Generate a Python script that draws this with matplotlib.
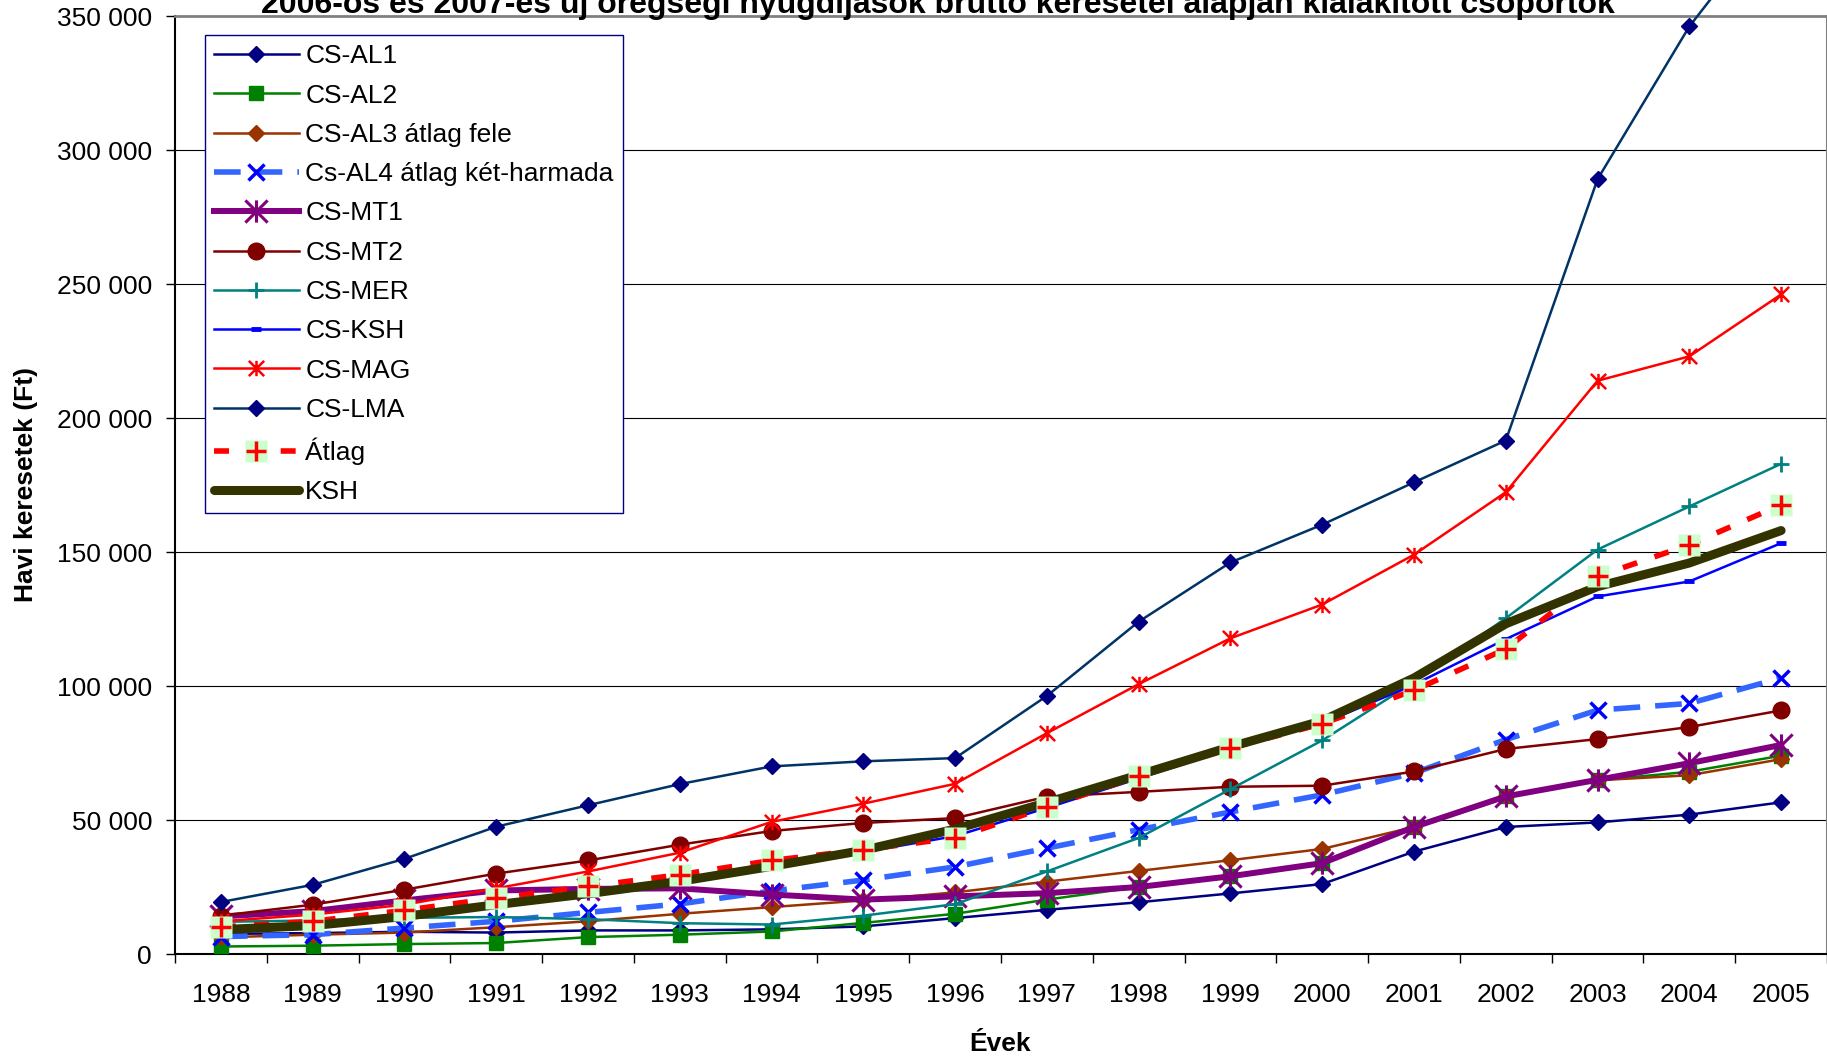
import matplotlib
matplotlib.use("Agg")
import matplotlib.pyplot as plt
from matplotlib.path import Path
from matplotlib.ticker import FuncFormatter, FixedLocator

years = ["1988", "1989", "1990", "1991", "1992", "1993", "1994", "1995", "1996",
         "1997", "1998", "1999", "2000", "2001", "2002", "2003", "2004", "2005"]

cs_al1 = [7500, 7800, 8300, 8000, 8800, 8800, 9200, 10300, 13400,
          16500, 19300, 22600, 26100, 38200, 47400, 49100, 52000, 56600]
cs_al2 = [2800, 3100, 3700, 4100, 6300, 7200, 8400, 11600, 15000,
          20300, 25000, 29200, 33900, 47400, 58800, 64800, 68000, 74000]
cs_al3 = [6200, 7200, 8000, 10000, 12200, 15000, 17500, 20000, 23000,
          27000, 31000, 35000, 39200, 47400, 58800, 64800, 66700, 72700]
cs_al4 = [6500, 7200, 9700, 12200, 15500, 18700, 23500, 27600, 32500,
          39500, 46400, 53000, 59400, 67500, 80000, 91000, 93500, 103000]
cs_mt1 = [14000, 16000, 20000, 23700, 24300, 24500, 22200, 20300, 21500,
          22700, 25000, 29000, 33900, 47400, 58800, 65000, 71200, 78000]
cs_mt2 = [14300, 18400, 24000, 30000, 34900, 40800, 45900, 48900, 50700,
          58700, 60500, 62400, 62800, 68100, 76500, 80200, 84700, 90900]
cs_mer = [12000, 12500, 13500, 13800, 13000, 11500, 11000, 14300, 18600,
          30800, 43300, 61500, 79700, 101500, 125300, 150900, 167000, 182900]
cs_ksh = [8500, 10000, 13500, 17800, 22000, 26500, 32300, 38000, 44000,
          54500, 65500, 76500, 86000, 100500, 117500, 133400, 139000, 153300]
cs_mag = [12200, 14700, 18400, 24500, 30800, 37800, 49300, 56100, 63500,
          82400, 100700, 117800, 130400, 149000, 172300, 213900, 223000, 246100]
cs_lma = [19400, 25800, 35500, 47500, 55500, 63400, 70000, 71900, 73100,
          96300, 124000, 146100, 160200, 176000, 191600, 289100, 346100, 390000]
atlag = [10100, 12200, 16300, 20900, 25200, 29600, 34900, 38900, 43300,
         54800, 66300, 76900, 85900, 98400, 113800, 140900, 152700, 167600]
ksh = [9100, 10600, 14000, 18400, 22500, 27100, 32700, 38700, 46600,
       56500, 66800, 77300, 87000, 103000, 123200, 137100, 145900, 158000]

title = "2006-os és 2007-es új öregségi nyugdíjasok bruttó keresetei alapján kialakított csoportok"
y_ticks = [0, 50000, 100000, 150000, 200000, 250000, 300000, 350000]

# Excel style "star" marker: an X with a vertical bar through it
STAR = Path([(-1, -1), (1, 1), (-1, 1), (1, -1), (0, -1), (0, 1)],
            [Path.MOVETO, Path.LINETO] * 3)


def main():
   plt.rcParams["font.family"] = ["Liberation Sans", "DejaVu Sans"]
   plt.rcParams["font.size"] = 19

   W, H = 1827, 1058
   fig = plt.figure(figsize=(W / 100, H / 100), dpi=100)
   ax = fig.add_axes([175 / W, 104 / H, 1652 / W, 938 / H])

   x = list(range(len(years)))
   handles = []
   thin = 1.8

   h, = ax.plot(x, cs_al1, color="#000080", lw=thin, marker="D", ms=8.5, mfc="#000080", mec="#000080", zorder=3)
   handles.append(h)
   h, = ax.plot(x, cs_al2, color="#008000", lw=thin, marker="s", ms=10, mfc="#008000", mec="#008000", zorder=3.1)
   handles.append(h)
   h, = ax.plot(x, cs_al3, color="#993300", lw=thin, marker="D", ms=8.5, mfc="#993300", mec="#993300", zorder=3.2)
   handles.append(h)
   h, = ax.plot(x, cs_al4, color="#3366FF", lw=4, ls=(0, (4.8, 2.7)), marker="x", ms=12, mew=2.5, mec="#0000FF", zorder=3.3)
   handles.append(h)
   h, = ax.plot(x, cs_mt1, color="#800080", lw=4.3, marker=STAR, ms=16, mew=2.2, mec="#800080", zorder=3.4)
   handles.append(h)
   h, = ax.plot(x, cs_mt2, color="#800000", lw=thin, marker="o", ms=12, mfc="#800000", mec="#800000", zorder=3.5)
   handles.append(h)
   h, = ax.plot(x, cs_mer, color="#008080", lw=thin, marker="+", ms=12, mew=2, mec="#008080", zorder=3.6)
   handles.append(h)
   h, = ax.plot(x, cs_ksh, color="#0000FF", lw=thin, marker="_", ms=6.5, mew=3.5, mec="#0000FF", zorder=3.7)
   handles.append(h)
   h, = ax.plot(x, cs_mag, color="#FF0000", lw=thin, marker=STAR, ms=11, mew=1.8, mec="#FF0000", zorder=3.8)
   handles.append(h)
   h, = ax.plot(x, cs_lma, color="#003366", lw=thin, marker="D", ms=8.5, mfc="#000080", mec="#000080", zorder=3.9, clip_on=False)
   handles.append(h)

   # Átlag: dashed red line, red cross on a pale green square
   a_line, = ax.plot(x, atlag, color="#FF0000", lw=4, ls=(0, (2.7, 3.3)), zorder=4)
   a_sq, = ax.plot(x, atlag, ls="none", marker="s", ms=16, mfc="#CCFFCC", mec="none", zorder=6)
   a_plus, = ax.plot(x, atlag, ls="none", marker="+", ms=14, mew=2.5, mec="#FF0000", zorder=6.1)
   handles.append((a_line, a_sq, a_plus))

   h, = ax.plot(x, ksh, color="#333300", lw=6.5, solid_capstyle="round", zorder=5)
   handles.append(h)

   labels = ["CS-AL1", "CS-AL2", "CS-AL3 átlag fele", "Cs-AL4 átlag két-harmada", "CS-MT1",
             "CS-MT2", "CS-MER", "CS-KSH", "CS-MAG", "CS-LMA", "Átlag", "KSH"]

   ax.set_xlim(-0.5, len(years) - 0.5)
   ax.set_ylim(0, 350000)

   ax.set_yticks(y_ticks)
   ax.yaxis.set_major_formatter(FuncFormatter(lambda v, p: f"{v:,.0f}".replace(",", " ")))
   ax.tick_params(axis="y", direction="out", length=6.5, width=1, pad=10, labelsize=19)

   ax.set_xticks(x)
   ax.set_xticklabels(years)
   ax.xaxis.set_minor_locator(FixedLocator([i - 0.5 for i in range(len(years) + 1)]))
   ax.tick_params(axis="x", which="major", length=0, pad=21, labelsize=19)
   ax.tick_params(axis="x", which="minor", direction="out", length=6.5, width=1)

   for v in y_ticks[1:-1]:
      ax.axhline(v, color="#000000", lw=0.8, zorder=1)

   for side in ["left", "bottom"]:
      ax.spines[side].set_color("black")
      ax.spines[side].set_linewidth(1.5)
   ax.spines["top"].set_color("#808080")
   ax.spines["top"].set_linewidth(2)
   ax.spines["right"].set_color("#808080")
   ax.spines["right"].set_linewidth(1.5)

   leg = ax.legend(handles, labels, loc="upper left", bbox_to_anchor=(30 / 1652, 1 - 19 / 938),
                   borderaxespad=0, fontsize=19, frameon=True, fancybox=False,
                   edgecolor="#000080", framealpha=1, handlelength=3.2, handletextpad=0.25,
                   borderpad=0.35, labelspacing=0.58, numpoints=1)
   leg.get_frame().set_linewidth(1)
   leg.set_zorder(10)

   fig.text(938 / W, 1 - 13 / H, title, ha="center", va="baseline", fontsize=23, fontweight="bold")
   fig.text(26 / W, 1 - 485 / H, "Havi keresetek (Ft)", rotation=90, ha="center", va="center",
            fontsize=19, fontweight="bold")
   fig.text(1000 / W, 1 - 1044 / H, "Évek", ha="center", va="center", fontsize=19, fontweight="bold")

   fig.savefig("out.png", dpi=100)


if __name__ == "__main__":
   main()
